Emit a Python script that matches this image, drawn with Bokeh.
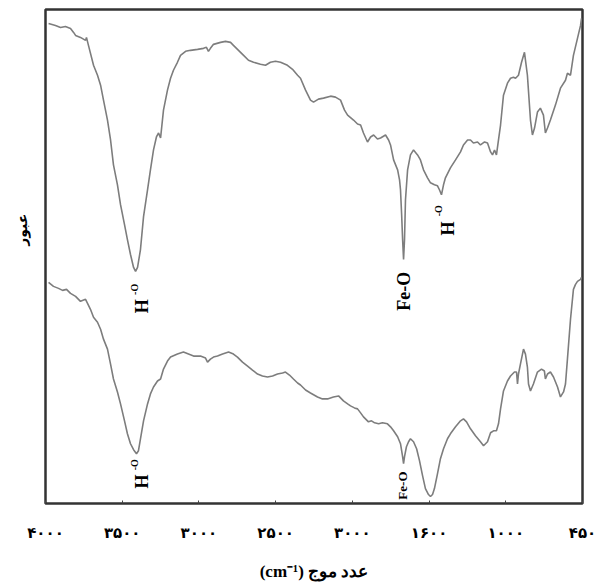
import numpy as np
from bokeh.plotting import figure
from bokeh.models import Range1d, FixedTicker, ColumnDataSource
from bokeh.core.properties import value
from bokeh.embed import file_html
from bokeh.resources import INLINE

# Axis ticks (wavenumber, cm-1) and their printed labels (as in the source figure)
tick_wn = [4000, 3500, 3000, 2500, 2000, 1600, 1000, 450]
tick_labels = ["۴۰۰۰", "۳۵۰۰", "۳۰۰۰", "۲۵۰۰", "۳۰۰۰", "۱۶۰۰", "۱۰۰۰", "۴۵۰"]

# Upper spectrum: wavenumber (cm-1) and transmittance (a.u.)
top_wn = [3980, 3935, 3902, 3870, 3837, 3817, 3804, 3772, 3739, 3733, 3720, 3687, 3661, 3641,
          3622, 3596, 3576, 3557, 3531, 3511, 3485, 3466, 3446, 3426, 3413, 3400, 3381, 3361,
          3335, 3316, 3296, 3277, 3263, 3250, 3231, 3205, 3185, 3166, 3140, 3120, 3087, 3055,
          3009, 2970, 2951, 2938, 2925, 2905, 2859, 2827, 2794, 2775, 2742, 2709, 2677, 2644,
          2599, 2566, 2534, 2501, 2468, 2423, 2390, 2357, 2338, 2305, 2273, 2253, 2221, 2188,
          2142, 2110, 2077, 2051, 2031, 1994, 1973, 1957, 1942, 1921, 1905, 1889, 1869, 1853,
          1827, 1811, 1801, 1785, 1764, 1754, 1749, 1743, 1738, 1733, 1728, 1723, 1712, 1697,
          1681, 1660, 1645, 1629, 1608, 1589, 1558, 1534, 1519, 1503, 1487, 1472, 1433, 1393,
          1354, 1331, 1299, 1276, 1253, 1221, 1198, 1166, 1143, 1119, 1104, 1088, 1073, 1057,
          1041, 1018, 988, 966, 945, 930, 909, 887, 866, 845, 823, 809, 794, 773, 752, 730,
          716, 701, 680, 644, 608, 572, 558, 536, 515, 486, 464, 457]
top_t = [482, 480, 478, 479, 477, 473, 470, 468, 465, 468, 460, 440, 430, 420,
         405, 385, 365, 340, 320, 300, 280, 265, 250, 237, 233, 237, 255, 288,
         315, 335, 355, 368, 372, 367, 395, 415, 427, 435, 443, 450, 454, 455,
         456, 457, 458, 454, 457, 461, 463, 464, 463, 460, 455, 450, 445, 443,
         441, 440, 443, 444, 443, 440, 436, 430, 427, 415, 405, 403, 406, 407,
         409, 408, 405, 395, 390, 385, 381, 380, 372, 363, 368, 370, 366, 367,
         370, 365, 360, 345, 335, 325, 315, 290, 265, 245, 265, 305, 335, 350,
         355, 350, 345, 335, 327, 322, 320, 319, 315, 310, 320, 327, 337, 345,
         353, 360, 365, 365, 362, 363, 360, 363, 362, 353, 350, 355, 350, 365,
         380, 410, 422, 427, 428, 427, 430, 443, 453, 430, 385, 370, 377, 393, 397, 390,
         372, 377, 385, 400, 417, 425, 432, 430, 450, 467, 480, 487]

# Lower spectrum
bot_wn = [3980, 3948, 3915, 3889, 3863, 3837, 3804, 3772, 3739, 3726, 3707, 3687, 3661, 3641,
          3622, 3596, 3576, 3557, 3531, 3511, 3485, 3466, 3446, 3426, 3407, 3394, 3381, 3361,
          3335, 3316, 3296, 3270, 3250, 3231, 3205, 3185, 3140, 3101, 3068, 3035, 2990, 2957,
          2944, 2925, 2905, 2879, 2846, 2807, 2775, 2749, 2716, 2683, 2651, 2618, 2586, 2553,
          2520, 2488, 2455, 2436, 2410, 2384, 2357, 2338, 2305, 2273, 2227, 2195, 2162, 2123,
          2090, 2058, 2031, 2012, 1989, 1973, 1957, 1942, 1916, 1900, 1884, 1863, 1843, 1817,
          1801, 1785, 1764, 1749, 1738, 1733, 1728, 1718, 1707, 1697, 1681, 1665, 1650, 1634,
          1619, 1603, 1589, 1573, 1558, 1534, 1511, 1487, 1456, 1433, 1393, 1354, 1331, 1307,
          1276, 1237, 1198, 1174, 1143, 1119, 1096, 1073, 1057, 1041, 1018, 988, 966, 938,
          923, 916, 909, 895, 873, 859, 845, 837, 823, 802, 773, 744, 723, 716, 701, 680,
          658, 629, 608, 586, 572, 558, 536, 515, 500, 486, 464, 457]
bot_t = [222, 218, 216, 214, 215, 211, 208, 203, 205, 201, 195, 187, 182, 175,
         165, 155, 140, 125, 112, 100, 83, 70, 60, 54, 50, 53, 65, 83,
         100, 110, 117, 123, 125, 135, 143, 147, 150, 152, 150, 148, 148, 146,
         142, 145, 147, 148, 150, 152, 150, 147, 142, 138, 134, 130, 128, 127,
         128, 130, 131, 132, 129, 125, 121, 119, 114, 111, 107, 105, 105, 107,
         108, 103, 100, 98, 96, 95, 91, 87, 82, 83, 81, 80, 81, 80,
         77, 73, 67, 60, 47, 40, 47, 57, 62, 65, 62, 55, 43, 28,
         15, 9, 7, 9, 15, 30, 45, 55, 65, 70, 77, 83, 85, 82,
         75, 68, 62, 58, 62, 71, 73, 73, 80, 95, 113, 123, 128, 132,
         132, 120, 130, 140, 155, 150, 137, 120, 113, 120, 132, 135, 133, 125, 130, 132,
         127, 117, 107, 112, 120, 145, 185, 215, 220, 223, 225, 227]

# Peak annotations
big_lbl = ["H", "Fe-O", "H", "H"]
big_wn = [3374, 1730, 1452, 3374]
big_t = [198, 213, 276, 22]
sup_lbl = ["-O", "-O", "-O"]
sup_wn = [3420, 1523, 3420]
sup_t = [215, 294, 39]
small_lbl = ["Fe-O"]
small_wn = [1736]
small_t = [18]

x_title = "(cm⁻¹) عدد موج"
y_title = "\u00a0" * 11 + "عبور"

positions = list(range(len(tick_wn)))
neg_ticks = [-w for w in tick_wn]


def to_pos(wn):
    return np.interp(-np.asarray(wn, dtype=float), neg_ticks, positions)


p = figure(width=609, height=583, output_backend="svg", toolbar_location=None,
           x_range=Range1d(0, 7), y_range=Range1d(0, 496),
           min_border_left=45, min_border_right=27, min_border_top=9, min_border_bottom=78)
p.grid.visible = False
p.background_fill_color = "white"
p.border_fill_color = "white"
p.outline_line_color = "#333333"
p.outline_line_width = 2.5

ax = p.xaxis[0]
ax.ticker = FixedTicker(ticks=positions)
ax.major_label_overrides = {i: s for i, s in zip(positions, tick_labels)}
ax.axis_line_color = None
ax.major_tick_in = 3
ax.major_tick_out = 0
ax.major_tick_line_color = "#444444"
ax.minor_tick_line_color = None
ax.major_label_text_font = "DejaVu Sans"
ax.major_label_text_font_style = "bold"
ax.major_label_text_font_size = "15px"
ax.major_label_text_color = "black"
ax.major_label_standoff = 20
ax.axis_label = x_title
ax.axis_label_text_font = "Liberation Serif"
ax.axis_label_text_font_style = "bold"
ax.axis_label_text_font_size = "17px"
ax.axis_label_text_color = "black"
ax.axis_label_standoff = 17

ay = p.yaxis[0]
ay.ticker = FixedTicker(ticks=[])
ay.axis_line_color = None
ay.major_tick_in = 0
ay.major_tick_out = 0
ay.minor_tick_line_color = None
ay.major_label_standoff = 0
ay.axis_label = y_title
ay.axis_label_text_font = "DejaVu Sans"
ay.axis_label_text_font_style = "bold"
ay.axis_label_text_font_size = "14px"
ay.axis_label_text_color = "black"
ay.axis_label_standoff = 16

line_color = "#7d7d7d"
p.line(to_pos(top_wn), top_t, line_color=line_color, line_width=1.6)
p.line(to_pos(bot_wn), bot_t, line_color=line_color, line_width=1.6)

src_big = ColumnDataSource(dict(x=to_pos(big_wn), y=big_t, t=big_lbl))
p.text(x="x", y="y", text="t", source=src_big, angle=np.pi / 2,
       text_font=value("Liberation Serif"), text_font_style="bold",
       text_font_size="18px", text_align="center", text_baseline="middle", text_color="black")
src_sup = ColumnDataSource(dict(x=to_pos(sup_wn), y=sup_t, t=sup_lbl))
p.text(x="x", y="y", text="t", source=src_sup, angle=np.pi / 2,
       text_font=value("Liberation Serif"), text_font_style="bold",
       text_font_size="10px", text_align="center", text_baseline="middle", text_color="black")
src_small = ColumnDataSource(dict(x=to_pos(small_wn), y=small_t, t=small_lbl))
p.text(x="x", y="y", text="t", source=src_small, angle=np.pi / 2,
       text_font=value("Liberation Serif"), text_font_style="bold",
       text_font_size="13px", text_align="center", text_baseline="middle", text_color="black")

open("out.html", "w").write(file_html(p, INLINE))
